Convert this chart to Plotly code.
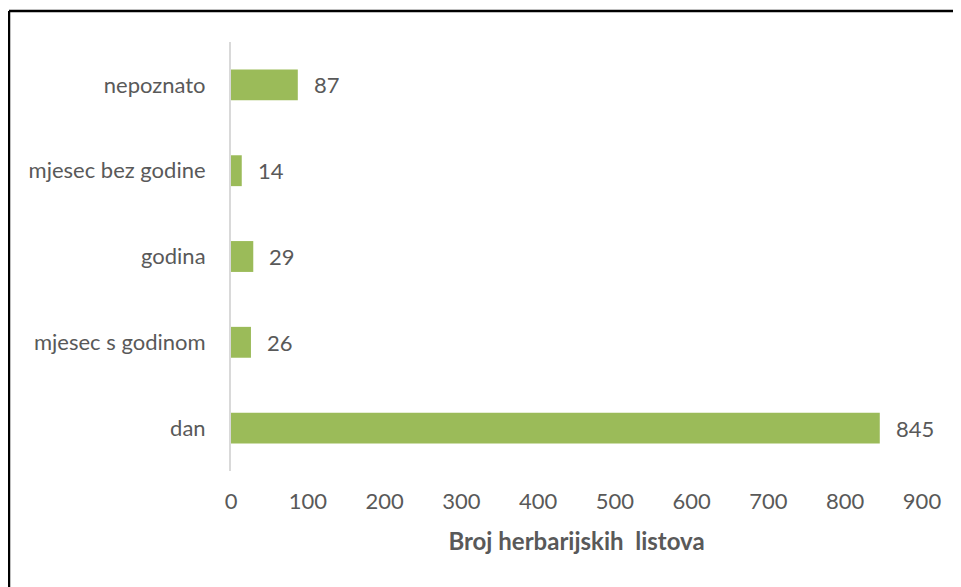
import plotly.graph_objects as go

categories = ["dan", "mjesec s godinom", "godina", "mjesec bez godine", "nepoznato"]
values = [845, 26, 29, 14, 87]
x_ticks = [0, 100, 200, 300, 400, 500, 600, 700, 800, 900]
x_title = "Broj herbarijskih  listova"

FONT = "Lato, 'Liberation Sans', sans-serif"
TXT = "#595959"
FS = 22

# page body has an 8px margin, so all pixel targets are shifted by -8
OFF = 8
W, H = 961, 587
L = 231 - OFF
R = W - (922 - OFF)
T = 42 - OFF
B = H - (471 - OFF)
pw, ph = W - L - R, H - T - B

def px(x):
    return (x - OFF - L) / pw

def py(y):
    return (H - B - (y - OFF)) / ph

fig = go.Figure()
fig.add_trace(go.Bar(
    x=values, y=categories, orientation="h",
    marker=dict(color="#9BBB59", line=dict(width=0)),
    hoverinfo="x+y",
))

for c, v in zip(categories, values):
    fig.add_annotation(x=v, y=c, text=str(v), showarrow=False,
                       xanchor="left", xshift=14,
                       font=dict(family=FONT, size=FS, color=TXT))

# outer frame: top and left edges (right/bottom fall outside the picture)
fig.add_shape(type="line", xref="paper", yref="paper",
              x0=px(9), x1=px(990), y0=py(11), y1=py(11),
              line=dict(color="black", width=2.5), layer="above")
fig.add_shape(type="line", xref="paper", yref="paper",
              x0=px(9), x1=px(9), y0=py(620), y1=py(11),
              line=dict(color="black", width=2.5), layer="above")

fig.update_layout(
    width=W, height=H,
    margin=dict(l=L, r=R, t=T, b=B, autoexpand=False),
    paper_bgcolor="white", plot_bgcolor="white",
    bargap=0.64,
    showlegend=False,
    font=dict(family=FONT, size=FS, color=TXT),
    xaxis=dict(range=[0, 900], tickvals=x_ticks, ticktext=[str(t) for t in x_ticks],
               showgrid=False, zeroline=False, showline=False,
               ticks="", ticklabelstandoff=15,
               tickfont=dict(family=FONT, size=FS, color=TXT),
               title=dict(text="<b>" + x_title + "</b>", standoff=20,
                          font=dict(family=FONT, size=24, color=TXT))),
    yaxis=dict(showgrid=False, zeroline=False, showline=True, linecolor="#D9D9D9",
               linewidth=2, ticks="", ticklabelstandoff=19,
               tickfont=dict(family=FONT, size=FS, color=TXT)),
)

fig.write_html("out.html")
